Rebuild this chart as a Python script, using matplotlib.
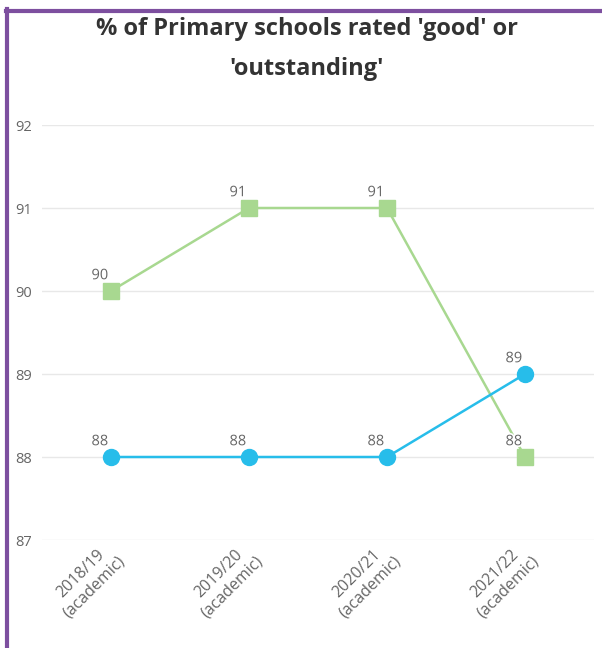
import matplotlib
matplotlib.use("Agg")
import matplotlib.pyplot as plt
from matplotlib.lines import Line2D
import matplotlib.patheffects as pe
import matplotlib.transforms as mtrans

categories = ["2018/19\n(academic)", "2019/20\n(academic)", "2020/21\n(academic)", "2021/22\n(academic)"]
series_green = [90, 91, 91, 88]
series_blue = [88, 88, 88, 89]
yticks = [87, 88, 89, 90, 91, 92]
title = "% of Primary schools rated 'good' or\n'outstanding'"

plt.rcParams['font.family'] = ['Open Sans', 'DejaVu Sans']

fig = plt.figure(figsize=(6.02, 6.48), dpi=100)
ax = fig.add_axes([42/602, 1-540/648, (594-42)/602, (540-125)/648])

x = list(range(len(categories)))
green = "#a8d890"
blue = "#27bdea"
ax.plot(x, series_green, color=green, lw=1.8, marker='s', ms=11.5, zorder=3)
ax.plot(x, series_blue, color=blue, lw=1.8, marker='o', ms=11.5, zorder=4)

for xs, ys in ((x, series_green), (x, series_blue)):
    for xi, yi in zip(xs, ys):
        ax.annotate(str(yi), (xi, yi), xytext=(-8, 11), textcoords='offset points',
                    ha='center', va='center', fontsize=10.5, color='#666666', zorder=5,
                    path_effects=[pe.withStroke(linewidth=2.5, foreground='white')])

ax.set_xlim(-0.5, 3.5)
ax.set_ylim(87, 92)
ax.set_yticks(yticks)
ax.set_xticks(x)
ax.set_xticklabels(categories, rotation=45, ha='right', rotation_mode='anchor',
                   multialignment='center', fontsize=11.5, color='#666666')
ax.tick_params(axis='y', labelsize=10.5, labelcolor='#666666', length=0, pad=7)
ax.tick_params(axis='x', length=0, pad=2)
offset = mtrans.ScaledTranslation(-7/100, 3/100, fig.dpi_scale_trans)
for lbl in ax.get_xticklabels():
    lbl.set_transform(lbl.get_transform() + offset)
ax.grid(axis='y', color='#e8e8e8', lw=1)
ax.set_axisbelow(True)
for s in ax.spines.values():
    s.set_visible(False)

fig.text(307/602, 1-49/648, title, ha='center', va='center', fontsize=17,
         fontweight='bold', color='#333333', linespacing=1.85)

purple = "#7d4f9f"
fig.add_artist(Line2D([7/602, 7/602], [0, 1-9/648], color=purple, lw=3, transform=fig.transFigure))
fig.add_artist(Line2D([5.5/602, 1], [1-10.5/648, 1-10.5/648], color=purple, lw=3, transform=fig.transFigure))

fig.savefig("out.png", dpi=100)
